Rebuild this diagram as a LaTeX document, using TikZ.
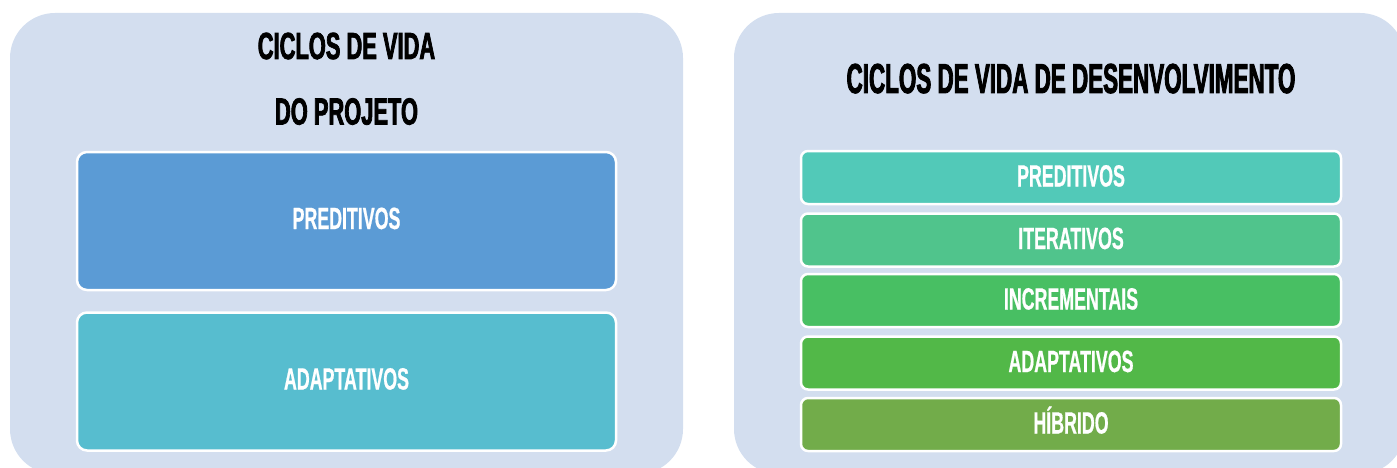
\documentclass[tikz,border=0pt]{standalone}
\usepackage{fontspec}
\newfontfamily\boxfont{Liberation Sans Bold}[FakeStretch=0.58,FakeBold=0.6]
\newfontfamily\titlefont{Liberation Sans Bold}[FakeStretch=0.58,FakeBold=2]
\newfontfamily\rtitlefont{Liberation Sans Bold}[FakeStretch=0.535,FakeBold=2]
\definecolor{panelbg}{HTML}{D3DEEF}
\definecolor{cblue}{HTML}{5B9BD5}
\definecolor{ccyan}{HTML}{57BDCF}
\definecolor{gA}{HTML}{52C9B8}
\definecolor{gB}{HTML}{50C48C}
\definecolor{gC}{HTML}{48BF63}
\definecolor{gD}{HTML}{52B848}
\definecolor{gE}{HTML}{72AC4A}
\begin{document}
\begin{tikzpicture}[x=1pt,y=-1pt,
  panel/.style={fill=panelbg, draw=none, rounded corners=45pt},
  bigbox/.style={draw=white, line width=2.5pt, rounded corners=10pt, text=white,
     minimum width=539pt, minimum height=138pt, inner sep=0pt,
     font=\boxfont\fontsize{30.7}{30.7}\selectfont, text height=22pt, text depth=6pt},
  smallbox/.style={draw=white, line width=2.5pt, rounded corners=7pt, text=white,
     minimum width=540pt, minimum height=53pt, inner sep=0pt,
     font=\boxfont\fontsize{30.7}{30.7}\selectfont, text height=22pt, text depth=4pt},
  lefttitle/.style={text=black, inner sep=0pt, font=\titlefont\fontsize{37.7}{37.7}\selectfont, text height=27pt, text depth=0pt},
  righttitle/.style={text=black, inner sep=0pt, font=\rtitlefont\fontsize{41.9}{41.9}\selectfont, text height=30pt, text depth=0pt}
]
\useasboundingbox (0,0) rectangle (1397,468);
\begin{scope}
\clip (0,0) rectangle (1397,468);
\fill[panel] (10,13) rectangle (683,474);
\fill[panel] (734,13) rectangle (1405,474);
\end{scope}
% left panel
\node[lefttitle] (lt1) at (346.5,45.5) {CICLOS DE VIDA};
\node[lefttitle] (lt2) at (346.5,111) {DO PROJETO};
\node[bigbox, fill=cblue] (lp) at (346.5,221) {PREDITIVOS};
\node[bigbox, fill=ccyan] (la) at (346.5,381.5) {ADAPTATIVOS};
% right panel
\node[righttitle] (rt) at (1071,78) {CICLOS DE VIDA DE DESENVOLVIMENTO};
\node[smallbox, fill=gA] (r1) at (1071,177.5) {PREDITIVOS};
\node[smallbox, fill=gB] (r2) at (1071,240) {ITERATIVOS};
\node[smallbox, fill=gC] (r3) at (1071,300.5) {INCREMENTAIS};
\node[smallbox, fill=gD] (r4) at (1071,363) {ADAPTATIVOS};
\node[smallbox, fill=gE] (r5) at (1071,424.5) {HÍBRIDO};
\end{tikzpicture}
\end{document}
